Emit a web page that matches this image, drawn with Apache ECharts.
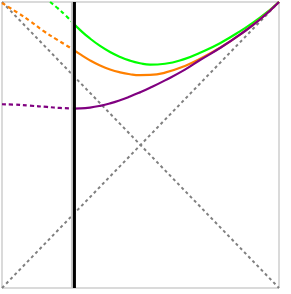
<!DOCTYPE html>
<html><head><meta charset="utf-8">
<script src="https://cdn.jsdelivr.net/npm/echarts@6/dist/echarts.min.js"></script>
<style>html,body{margin:0;padding:0;background:#fff}#c{width:291px;height:294px}</style>
</head><body><div id="c"></div>
<script>
// light-cone diagonals
const coneA = [[-1, -1], [1, 1]];
const coneB = [[-1, 1], [1, -1]];
// vertical marker positions
const markerGreyX = -0.495;
const markerBlackX = -0.477;
// green curve
const greenDashed = [[-0.653,1.0],[-0.596,0.955],[-0.545,0.910],[-0.480,0.846]];
const greenSolid = [[-0.480,0.846],[-0.437,0.805],[-0.365,0.745],[-0.292,0.693],[-0.220,0.650],[-0.148,0.616],[-0.076,0.590],[-0.004,0.572],[0.069,0.562],[0.177,0.568],[0.321,0.602],[0.430,0.645],[0.574,0.712],[0.718,0.795],[0.863,0.890],[1.0,1.0]];
// orange curve
const orangeDashed = [[-1.0,0.993],[-0.884,0.923],[-0.791,0.862],[-0.704,0.800],[-0.603,0.737],[-0.480,0.664]];
const orangeSolid = [[-0.480,0.664],[-0.437,0.635],[-0.365,0.592],[-0.292,0.556],[-0.220,0.528],[-0.148,0.508],[-0.076,0.495],[-0.004,0.489],[0.069,0.490],[0.177,0.506],[0.321,0.553],[0.430,0.603],[0.574,0.680],[0.718,0.772],[0.863,0.880],[1.0,1.0]];
// purple curve
const purpleDashed = [[-1.0,0.285],[-0.921,0.283],[-0.798,0.275],[-0.675,0.266],[-0.581,0.259],[-0.480,0.255]];
const purpleSolid = [[-0.480,0.255],[-0.437,0.256],[-0.365,0.262],[-0.292,0.274],[-0.220,0.291],[-0.148,0.313],[-0.076,0.339],[-0.004,0.368],[0.069,0.400],[0.177,0.452],[0.321,0.527],[0.430,0.594],[0.574,0.678],[0.718,0.772],[0.863,0.878],[1.0,1.0]];

function ln(data, color, width, dashed, z) {
  return { type: 'line', data: data, symbol: 'none', smooth: true, z: z || 2, animation: false,
    lineStyle: { color: color, width: width, type: dashed ? [4, 3] : 'solid', cap: 'butt' } };
}
const chart = echarts.init(document.getElementById('c'));
chart.setOption({
  animation: false,
  grid: { left: 2, right: 12, top: 2, bottom: 6, show: true, borderColor: '#b5b5b5', borderWidth: 1 },
  xAxis: { type: 'value', min: -1, max: 1, axisLine: { show: false }, axisTick: { show: false }, axisLabel: { show: false }, splitLine: { show: false } },
  yAxis: { type: 'value', min: -1, max: 1, axisLine: { show: false }, axisTick: { show: false }, axisLabel: { show: false }, splitLine: { show: false } },
  series: [
    Object.assign(ln(coneA, '#808080', 2, false, 1), { smooth: false, lineStyle: { color: '#808080', width: 2, type: [3, 3] } }),
    Object.assign(ln(coneB, '#808080', 2, false, 1), { smooth: false, lineStyle: { color: '#808080', width: 2, type: [3, 3] } }),
    ln(greenDashed, '#00ff00', 2.2, true),
    ln(greenSolid, '#00ff00', 2.2, false),
    ln(orangeDashed, '#ff8000', 2.2, true),
    ln(orangeSolid, '#ff8000', 2.2, false),
    ln(purpleDashed, '#800080', 2.2, true),
    ln(purpleSolid, '#800080', 2.2, false),
    Object.assign(ln([[markerGreyX, -1], [markerGreyX, 1]], '#c8c8c8', 2, false, 3), { smooth: false }),
    Object.assign(ln([[markerBlackX, -1], [markerBlackX, 1]], '#000000', 3, false, 4), { smooth: false })
  ]
});
</script></body></html>
